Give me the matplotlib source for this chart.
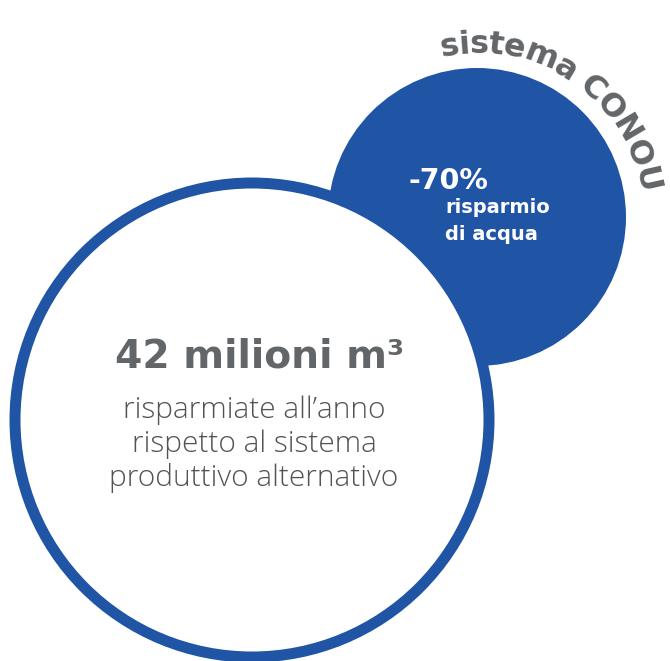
import numpy as np
import matplotlib
matplotlib.use('Agg')
from matplotlib import pyplot as plt
from matplotlib.patches import Circle
from matplotlib.font_manager import FontProperties
from matplotlib.textpath import text_to_path

BLUE = '#1f55a4'
GRAY = '#636668'
W, H = 670, 661

# content
arc_label = 'sistema CONOU'
saving_pct = '-70%'
saving_pct_lines = ['risparmio', 'di acqua']
saving_volume = '42 milioni m³'
saving_volume_lines = ['risparmiate all\u2019anno', 'rispetto al sistema', 'produttivo alternativo']

fig = plt.figure(figsize=(W / 100, H / 100), dpi=100)
ax = fig.add_axes([0, 0, 1, 1])
ax.set_xlim(0, W)
ax.set_ylim(H, 0)
ax.set_aspect('equal')
ax.axis('off')

# small filled circle, then big ring on top
small_c, small_r = (477, 217), 149
big_c, big_r = (252, 420), 237
ax.add_patch(Circle(small_c, small_r, facecolor=BLUE, edgecolor='none', zorder=1))
ax.add_patch(Circle(big_c, big_r, facecolor='white', edgecolor=BLUE, linewidth=11 * 72 / 100, zorder=2))

# curved label around the small circle
fp = FontProperties(family='DejaVu Sans', weight='bold', size=23)
px = 100 / 72


def width_px(s):
    if not s:
        return 0.0
    w, _, _ = text_to_path.get_text_width_height_descent(s, fp, ismath=False)
    return w * px


r_base = 164
ang_start, ang_end = np.radians(102.5), np.radians(8.0)
total = width_px(arc_label)
arc_len = (ang_start - ang_end) * r_base
track = (arc_len - total) / (len(arc_label) - 1)
pos = 0.0
for i, ch in enumerate(arc_label):
    cw = width_px(arc_label[:i + 1]) - width_px(arc_label[:i])
    mid = pos + cw / 2
    th = ang_start - mid / r_base
    x = small_c[0] + r_base * np.cos(th)
    y = small_c[1] - r_base * np.sin(th)
    ax.text(x, y, ch, fontproperties=fp, color=GRAY, ha='center', va='baseline',
            rotation=np.degrees(th) - 90, rotation_mode='anchor', zorder=3)
    pos += cw + track

# text inside the blue circle
ax.text(408, 189, saving_pct, family='DejaVu Sans', weight='bold', fontsize=20.5,
        color='white', ha='left', va='baseline', zorder=3)
for i, line in enumerate(saving_pct_lines):
    ax.text(445, 213 + i * 27, line, family='DejaVu Sans', weight='bold', fontsize=14,
            color='white', ha='left', va='baseline', zorder=3)

# text inside the big circle
ax.text(260, 367, saving_volume, family='DejaVu Sans', weight='bold', fontsize=28.3,
        color=GRAY, ha='center', va='baseline', zorder=3)
for i, line in enumerate(saving_volume_lines):
    ax.text(254, 418 + i * 34, line, family='Open Sans', weight='light', fontsize=21.5,
            color='#505356', ha='center', va='baseline', zorder=3)

fig.savefig('out.png', dpi=100)
